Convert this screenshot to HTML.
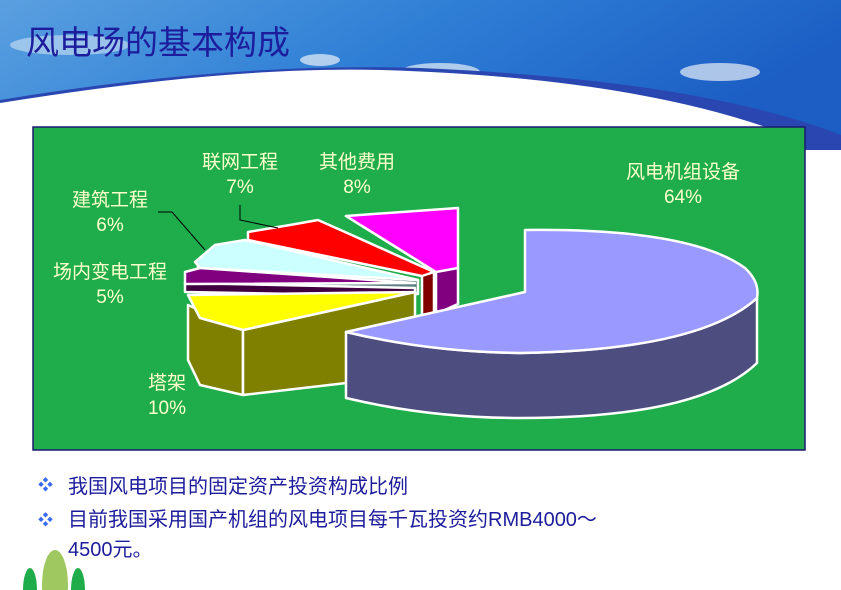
<!DOCTYPE html>
<html><head><meta charset="utf-8"><style>
html,body{margin:0;width:841px;height:590px;overflow:hidden}
body{background:#fff;position:relative;font-family:"Liberation Sans","Noto Sans CJK SC",sans-serif}
.t{position:absolute;color:#ffffcc;font-size:19px;text-align:center;line-height:25px;white-space:nowrap}
.b{position:absolute;color:#1c1c9c;font-size:20px;left:68px;white-space:nowrap}
.d{position:absolute;left:38px;color:#3a6cf0;font-size:15px}
</style></head><body>
<svg width="841" height="590" style="position:absolute;left:0;top:0">
<defs><linearGradient id="sky" x1="0" y1="0" x2="1" y2="0.3">
<stop offset="0" stop-color="#5aa0e0"/><stop offset="0.5" stop-color="#2f7fd6"/><stop offset="1" stop-color="#1c5ec4"/></linearGradient></defs>
<rect width="841" height="150" fill="url(#sky)"/>
<ellipse cx="70" cy="45" rx="60" ry="10" fill="#cfe3f5" opacity="0.6"/>
<ellipse cx="320" cy="60" rx="20" ry="6" fill="#e8f0f8" opacity="0.7"/>
<ellipse cx="440" cy="72" rx="40" ry="9" fill="#e8f0f8" opacity="0.7"/>
<ellipse cx="720" cy="72" rx="40" ry="9" fill="#e8f0f8" opacity="0.7"/>
<path d="M0,100 Q230,62 420,68 Q700,80 841,135 L841,150 L0,150Z" fill="#2a46b0"/>
<path d="M0,103 Q230,66 380,70 Q650,78 800,140 L800,150 L0,150Z" fill="#fff"/>
<rect x="33" y="127" width="772" height="323" fill="#1fad4b" stroke="#1a1a70" stroke-width="1.5"/>
<g stroke="#fff" stroke-width="2.5" stroke-linejoin="round">
<polygon points="346,216 436,272 436,314 458,304 458,268" fill="#800080"/>
<polygon points="346,216 458,208 458,268 436,272" fill="#ff00ff"/>
<polygon points="248,240 422,276 422,316 434,314 434,272" fill="#800000"/>
<polygon points="248,232 290,225 318,220 345,232 434,272 422,276 248,240" fill="#ff0000"/>
<polygon points="198,266 418,280 418,294 198,276" fill="#5f8080"/>
<polygon points="195,262 215,245 245,240 418,280 200,268" fill="#ccffff"/>
<polygon points="185,283 415,288 415,296 185,292" fill="#400040"/>
<polygon points="185,272 200,268 415,283 185,284" fill="#800080"/>
<polygon points="188,305 243,330 243,395 200,385 188,360" fill="#808000"/>
<polygon points="243,330 415,292 415,375 243,395" fill="#808000"/>
<polygon points="188,295 415,292 243,330 200,318" fill="#ffff00"/>
<path d="M346,332 Q430,352 520,353 Q700,350 757,298 L757,363 Q700,418 520,418 Q430,418 346,398Z" fill="#4d4d80"/>
<path d="M346,332 L525,292 L525,230 Q690,228 745,268 Q760,282 757,298 Q700,350 520,353 Q430,352 346,332Z" fill="#9999ff"/>
</g>
<polyline points="158,212 172,212 205,250" fill="none" stroke="#000" stroke-width="1"/>
<polyline points="240,205 240,220 278,228" fill="none" stroke="#000" stroke-width="1"/>
<ellipse cx="30" cy="590" rx="7" ry="22" fill="#1fad4b"/>
<ellipse cx="55" cy="585" rx="13" ry="35" fill="#a0c860"/>
<ellipse cx="78" cy="590" rx="7" ry="22" fill="#1fad4b"/>
</svg>
<div style="position:absolute;left:26px;top:16px;font-size:33px;color:#1c1c9c;font-family:'Liberation Sans','Noto Sans CJK SC',sans-serif">风电场的基本构成</div>
<div class="t" style="left:190px;top:150px;width:100px">联网工程<br>7%</div>
<div class="t" style="left:307px;top:150px;width:100px">其他费用<br>8%</div>
<div class="t" style="left:613px;top:160px;width:140px">风电机组设备<br>64%</div>
<div class="t" style="left:60px;top:188px;width:100px">建筑工程<br>6%</div>
<div class="t" style="left:40px;top:260px;width:140px">场内变电工程<br>5%</div>
<div class="t" style="left:137px;top:371px;width:60px">塔架<br>10%</div>
<div class="d" style="top:474px">❖</div>
<div class="d" style="top:509px">❖</div>
<div class="b" style="top:470px">我国风电项目的固定资产投资构成比例</div>
<div class="b" style="top:505px;line-height:30px">目前我国采用国产机组的风电项目每千瓦投资约RMB4000～<br>4500元。</div>
</body></html>
